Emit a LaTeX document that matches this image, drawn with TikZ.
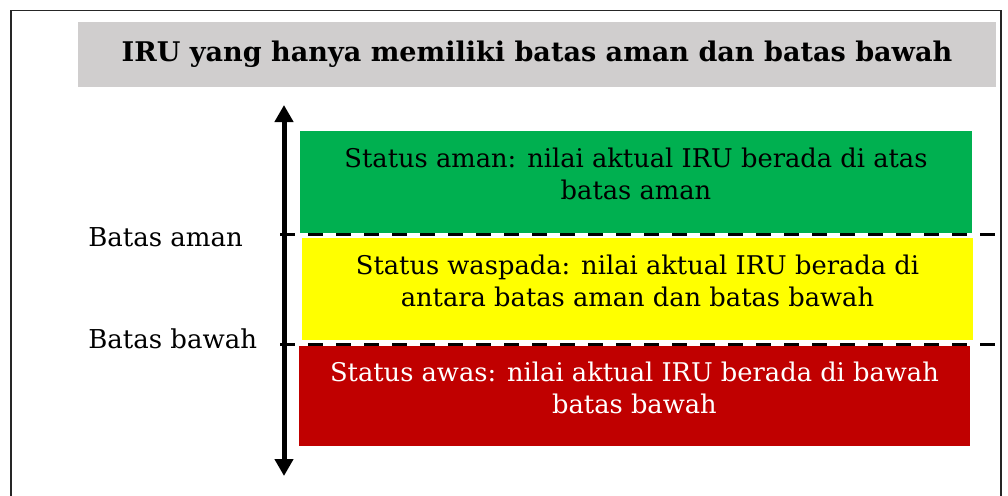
\documentclass[tikz,border=0pt]{standalone}
\usepackage{fontspec}
\setmainfont{DejaVu Serif}
\usetikzlibrary{positioning}
\usetikzlibrary{arrows.meta}
\definecolor{titlegray}{RGB}{208,206,206}
\definecolor{amangreen}{RGB}{0,176,80}
\definecolor{waspadayellow}{RGB}{255,255,0}
\definecolor{awasred}{RGB}{192,0,0}
\tikzset{
    framebox/.style = {draw=black!85, line width=1.1pt},
    titlebox/.style = {rectangle, fill=titlegray, minimum width=688.5pt, minimum height=48.75pt, inner sep=0, font=\fontsize{20.3}{24}\selectfont\bfseries, text=black},
    statusbox/.style = {rectangle, minimum width=503.5pt, inner sep=0, text depth=13pt, align=center, font=\fontsize{19.3}{24}\selectfont},
    limitlabel/.style = {anchor=west, inner sep=0, font=\fontsize{19.5}{24}\selectfont, text=black},
    limitline/.style = {-, line width=2.25pt, black, dash pattern=on 11.25pt off 9.75pt}, % batas
    axisarrow/.style = {{Triangle[width=13.5pt,length=12.75pt]}-{Triangle[width=13.5pt,length=12.75pt]}, line width=3.75pt, black}
}

\begin{document}
\begin{tikzpicture}[x=0.75pt,y=-0.75pt]
\useasboundingbox (0,0) rectangle (1008,496);
\draw[framebox] (11,10.5) rectangle (1001,530);

\node[titlebox] at (537,54.5) (title) {IRU yang hanya memiliki batas aman dan batas bawah};

\node[statusbox, fill=amangreen, minimum height=76.5pt, text=black] at (636,182) (aman) {Status aman: nilai aktual IRU berada di atas\\batas aman};
\node[statusbox, fill=waspadayellow, minimum height=76.5pt, text=black] at (637.5,289) (waspada) {Status waspada: nilai aktual IRU berada di\\antara batas aman dan batas bawah};
\node[statusbox, fill=awasred, minimum height=75pt, text=white] at (634.5,396) (awas) {Status awas: nilai aktual IRU berada di bawah\\batas bawah};

\coordinate (top) at (284,105);
\coordinate (bot) at (284,476);
\draw[axisarrow] (bot) -- (top);

\coordinate (amanL) at (280,234);
\coordinate (amanR) at (998,234);
\coordinate (bawahL) at (280,344);
\coordinate (bawahR) at (998,344);
\draw[limitline] (amanL) -- (amanR);
\draw[limitline] (bawahL) -- (bawahR);

\node[limitlabel] at (88,237) (lblaman) {Batas aman};
\node[limitlabel] at (88,339) (lblbawah) {Batas bawah};

\end{tikzpicture}
\end{document}
